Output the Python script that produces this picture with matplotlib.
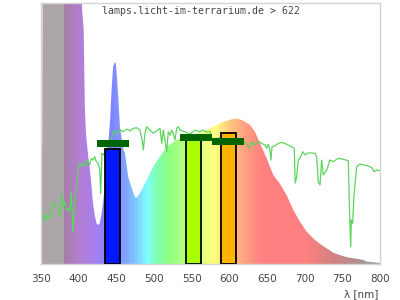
import numpy as np
import matplotlib
matplotlib.use("Agg")
import matplotlib.pyplot as plt
from matplotlib.colors import LinearSegmentedColormap
from matplotlib.patches import Polygon

# lamp spectrum (relative, 1 = top of plot)
spec_nm = [350, 352, 352.5, 404, 405, 407, 408.5, 410, 412.7, 415, 417, 419.3, 421.6, 423.7,
           426, 428.2, 430.3, 432.6, 435, 438, 442, 444, 446, 448, 449.5, 451, 453, 455,
           457.4, 459.5, 461.7, 466, 470.6, 475, 477, 481.6, 490.5, 499, 508, 517, 530,
           542.6, 554, 565.5, 574.4, 583.3, 592, 605.3, 612, 618.5, 627.4, 634, 640.7,
           649.5, 658.3, 667.2, 676, 684.8, 693.7, 702.5, 711.3, 720.2, 729, 737.8, 746.7,
           755.6, 764.3, 773.2, 779.8, 781, 790, 800]
spec_val = [0.45, 0.45, 1.1, 1.1, 0.97, 0.9, 0.6, 0.5, 0.42, 0.367, 0.31, 0.233, 0.188, 0.158,
            0.149, 0.156, 0.188, 0.233, 0.30, 0.40, 0.55, 0.667, 0.756, 0.771, 0.771, 0.718,
            0.628, 0.526, 0.48, 0.44, 0.425, 0.334, 0.291, 0.256, 0.254, 0.271, 0.322, 0.373,
            0.411, 0.449, 0.475, 0.488, 0.498, 0.507, 0.52, 0.533, 0.545, 0.556, 0.556, 0.549,
            0.533, 0.507, 0.462, 0.405, 0.341, 0.307, 0.264, 0.207, 0.162, 0.124, 0.098,
            0.077, 0.06, 0.043, 0.034, 0.026, 0.022, 0.018, 0.013, 0.01, 0.007, 0.004]

# sunlight reference
sun_nm = [350.8, 353.0, 355.3, 357.4, 359.7, 361.9, 364.0, 366.3, 368.6, 370.7, 372.9, 375.2,
          377.3, 379.6, 381.8, 383.9, 386.2, 388.4, 390.6, 392.8, 395.1, 397.2, 399.4, 401.7,
          403.8, 406.1, 408.3, 410.4, 412.7, 414.9, 417.1, 419.3, 421.6, 423.7, 425.9, 428.2,
          429.5, 431.2, 433.0, 437, 441, 444.1, 447.1, 450.7, 455.1, 459.5, 464.0, 468.4,
          472.7, 477.2, 481.6, 484.7, 486.0, 488.2, 490.5, 494.9, 499.2, 503.7, 508.1, 510.4,
          512.5, 514.7, 517.0, 519.1, 521.4, 523.6, 525.7, 528.0, 530.3, 532.4, 534.6, 541.3,
          547.9, 554.6, 561.1, 565.5, 570.0, 574.4, 576.6, 581.0, 587.6, 595, 605, 612, 619.0,
          622.5, 626.9, 629.7, 634.0, 638.4, 642.9, 647.3, 649.5, 651.7, 653.9, 655.2, 656.6,
          660.6, 664.9, 669.4, 676.0, 682.7, 686.1, 687.3, 689.3, 691.4, 693.7, 697.3, 700.3,
          704.7, 713.6, 715.8, 717.9, 720.2, 722.4, 724.5, 729.1, 733.4, 737.8, 744.4, 751.1,
          757.7, 759.0, 760.9, 761.7, 763.5, 765.2, 768.8, 773.2, 782.1, 788.7, 791.8, 795.3,
          799.7]
sun_val = [0.175, 0.162, 0.194, 0.169, 0.188, 0.175, 0.213, 0.239, 0.226, 0.220, 0.213, 0.181,
           0.271, 0.220, 0.239, 0.207, 0.213, 0.200, 0.277, 0.124, 0.245, 0.284, 0.360, 0.386,
           0.375, 0.386, 0.373, 0.398, 0.396, 0.379, 0.405, 0.398, 0.411, 0.392, 0.386, 0.367,
           0.271, 0.424, 0.418, 0.44, 0.47, 0.483, 0.51, 0.501, 0.513, 0.507, 0.517, 0.510,
           0.520, 0.522, 0.513, 0.469, 0.437, 0.501, 0.526, 0.513, 0.501, 0.510, 0.520, 0.462,
           0.513, 0.475, 0.430, 0.507, 0.494, 0.513, 0.501, 0.475, 0.520, 0.526, 0.513, 0.506,
           0.498, 0.513, 0.507, 0.513, 0.505, 0.507, 0.482, 0.479, 0.483, 0.48, 0.475, 0.47,
           0.469, 0.462, 0.443, 0.469, 0.456, 0.471, 0.462, 0.456, 0.443, 0.459, 0.437, 0.398,
           0.449, 0.453, 0.462, 0.466, 0.459, 0.449, 0.443, 0.31, 0.334, 0.398, 0.405, 0.430,
           0.418, 0.426, 0.424, 0.411, 0.315, 0.303, 0.398, 0.341, 0.360, 0.398, 0.392, 0.405,
           0.401, 0.396, 0.233, 0.066, 0.169, 0.156, 0.258, 0.373, 0.383, 0.377, 0.370, 0.354,
           0.360, 0.357]

# receptor bars and their markers
bar_nm = [445, 553, 599]
bar_val = [0.441, 0.477, 0.501]
bar_colors = ['#0018ff', '#a8ff00', '#ffb400']
mark_nm = [446, 555.5, 598.5]
mark_val = [0.462, 0.485, 0.470]

title = 'lamps.licht-im-terrarium.de > 622'
xticks = [350, 400, 450, 500, 550, 600, 650, 700, 750, 800]

# colour stops for the spectrum fill
stops = [(350, '#aca5aa'), (379.5, '#aca5aa'), (380, '#a67ea6'), (400, '#b47fd2'),
         (420, '#a880f0'), (440, '#8080ff'), (460, '#80a0ff'), (475, '#80c8ff'),
         (490, '#80ffff'), (505, '#80ffa8'), (520, '#90ff80'), (545, '#c0ff80'),
         (570, '#f0ff80'), (580, '#ffff80'), (600, '#ffc880'), (620, '#ffa080'),
         (645, '#ff8080'), (700, '#ff8080'), (740, '#d08282'), (779, '#a89494'),
         (780, '#a0a0a0'), (800, '#a0a0a0')]
cmap = LinearSegmentedColormap.from_list('spec', [((w - 350) / 450, c) for w, c in stops])

fig = plt.figure(figsize=(4, 3), dpi=100)
ax = fig.add_axes([40.7 / 400, 1 - 264 / 300, (380.2 - 40.7) / 400, 261 / 300])
ax.set_xlim(350, 800)
ax.set_ylim(0, 1)

verts = [(350, 0)] + list(zip(spec_nm, spec_val)) + [(800, 0)]
clip = Polygon(verts, closed=True, facecolor='none', edgecolor='none')
ax.add_patch(clip)
grad = np.linspace(0, 1, 900).reshape(1, -1)
im = ax.imshow(grad, extent=[350, 800, 0, 1], aspect='auto', cmap=cmap,
               interpolation='nearest', zorder=1)
im.set_clip_path(clip)

ax.plot(sun_nm, sun_val, color='#5ed45e', lw=0.9, zorder=2)

ax.bar(bar_nm, bar_val, width=20, color=bar_colors, edgecolor='black', linewidth=1.3, zorder=3)
ax.bar(mark_nm, 0.025, width=42, bottom=np.array(mark_val) - 0.0125, color='#006400',
       linewidth=0, zorder=4)

ax.set_xticks(xticks)
ax.set_yticks([])
ax.tick_params(axis='x', length=0, pad=7, labelsize=7.5, labelcolor='#444444')
for s in ax.spines.values():
    s.set_color('#d4d4d4')
    s.set_linewidth(1.0)

fig.text(200.8 / 400, 1 - 11 / 300, title, ha='center', va='center', fontsize=7.1,
         family='DejaVu Sans Mono', color='#444444')
fig.text(378 / 400, 1 - 294 / 300, 'λ [nm]', ha='right', va='center', fontsize=7.5,
         color='#444444')

fig.savefig('out.png', dpi=100)
